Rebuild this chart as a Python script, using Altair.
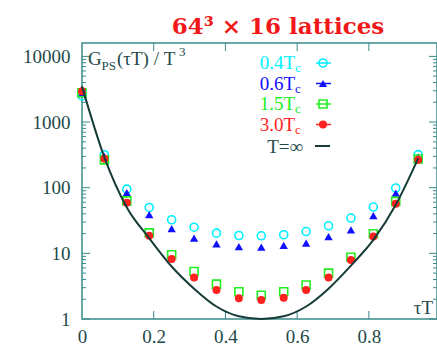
import altair as alt
import pandas as pd

# ---- data ----
tau = [0.0, 0.0625, 0.125, 0.1875, 0.25, 0.3125, 0.375, 0.4375, 0.5,
       0.5625, 0.625, 0.6875, 0.75, 0.8125, 0.875, 0.9375]
g_04 = [2500, 318, 95, 50, 32.5, 25, 20.3, 18.7, 18.5, 19.2, 21.5, 26.3, 34.5, 50.7, 99, 319]
g_06 = [2700, 300, 84, 39, 23.7, 17, 14, 12.7, 12.4, 13.2, 14.3, 18, 22.8, 37.4, 83, 294]
g_15 = [2800, 265, 63, 20.5, 9.5, 5.3, 3.4, 2.6, 2.3, 2.6, 3.3, 5.0, 8.7, 19.9, 62, 274]
g_30 = [2950, 277, 59, 18.5, 8.2, 4.3, 2.77, 2.07, 1.95, 2.1, 2.77, 4.3, 7.95, 18, 57, 267]

tau_free = [0.0, 0.0625, 0.125, 0.1875, 0.25, 0.3125, 0.375, 0.4375, 0.5,
            0.5625, 0.625, 0.6875, 0.75, 0.8125, 0.875, 0.9375]
g_free = [3500, 290, 50, 17, 6.3, 2.9, 1.55, 1.1, 1.0, 1.1, 1.55, 2.9, 6.5, 16, 55, 280]

series_labels = ["0.4T", "0.6T", "1.5T", "3.0T"]
series_colors = ["#00f0ff", "#1010ff", "#22ee22", "#ff2020"]
free_label = "T=\u221e"

x_ticks = [0, 0.2, 0.4, 0.6, 0.8]
y_ticks = [1, 10, 100, 1000, 10000]
y_minor = [m * d for d in [1, 10, 100, 1000] for m in range(2, 10)]

title_text = "64\u00b3 \u00d7 16 lattices"

W, H = 355, 276
SERIF = "Liberation Serif"
FRAME = "#3a8a8a"
TXT = "#1e4a4a"
LINE = "#163c38"

xs = alt.Scale(domain=[0, 0.99], nice=False, zero=False)
ys = alt.Scale(type="log", domain=[1, 16000], nice=False)

layers = []

# ---- data series (first layer carries the axes) ----
styles = [
    dict(shape="circle", filled=False, size=64, strokeWidth=1.6),
    dict(shape="triangle-up", filled=True, size=70),
    dict(shape="square", filled=False, size=64, strokeWidth=1.6),
    dict(shape="circle", filled=True, size=64),
]
all_vals = [g_04, g_06, g_15, g_30]
series_layers = []
first = True
for vals, col, st in zip(all_vals, series_colors, styles):
    df = pd.DataFrame({"tau": tau, "g": vals})
    if first:
        xenc = alt.X("tau:Q", scale=xs, title=None,
                     axis=alt.Axis(values=x_ticks, format="~g", ticks=False, domain=False,
                                   grid=False, labelPadding=8, labelFlush=False))
        yenc = alt.Y("g:Q", scale=ys, title=None,
                     axis=alt.Axis(values=y_ticks, format="d", ticks=False, domain=False,
                                   grid=False, labelPadding=12, labelFlush=False))
        first = False
    else:
        xenc = alt.X("tau:Q", scale=xs, title=None)
        yenc = alt.Y("g:Q", scale=ys, title=None)
    series_layers.append(alt.Chart(df).mark_point(color=col, opacity=1, **st).encode(x=xenc, y=yenc))

layers.extend(series_layers)

# ---- tick marks (inward, gnuplot style) ----
ymaj = pd.DataFrame({"g": y_ticks})
ymin = pd.DataFrame({"g": y_minor})
xmaj = pd.DataFrame({"tau": x_ticks[1:]})
for df, ln in [(ymaj, 8), (ymin, 4)]:
    for x0, x1 in [(0, ln), (W - ln, W)]:
        layers.append(alt.Chart(df).mark_rule(color=FRAME, strokeWidth=1).encode(
            y=alt.Y("g:Q", scale=ys, title=None),
            x=alt.value(x0), x2=alt.value(x1)))
for y0, y1 in [(H - 8, H), (0, 8)]:
    layers.append(alt.Chart(xmaj).mark_rule(color=FRAME, strokeWidth=1).encode(
        x=alt.X("tau:Q", scale=xs, title=None),
        y=alt.value(y0), y2=alt.value(y1)))

free_df = pd.DataFrame({"tau": tau_free, "g": g_free})
layers.append(alt.Chart(free_df).mark_line(color=LINE, strokeWidth=2, interpolate="monotone").encode(
    x=alt.X("tau:Q", scale=xs, title=None),
    y=alt.Y("g:Q", scale=ys, title=None)))

# ---- annotation helper ----
one = pd.DataFrame({"a": [0]})

def txt(s, x, y, size=19, color=TXT, align="left", font=SERIF, weight="normal"):
    return alt.Chart(one).mark_text(text=s, align=align, baseline="alphabetic", font=font,
                                    fontSize=size, color=color, fontWeight=weight).encode(
        x=alt.value(x), y=alt.value(y))

# title
layers.append(txt(title_text, 196, -9, size=23, color="#f01818", align="center",
                  font="DejaVu Serif", weight="bold"))

# y-axis label inside plot: G_PS(tau T) / T^3
layers.append(txt("G", 6, 22))
layers.append(txt("PS", 19.5, 27, size=13))
layers.append(txt("(\u03c4T) / T", 35, 22))
layers.append(txt("3", 97, 13, size=13))

# x-axis label
layers.append(txt("\u03c4T", 351, 271, align="right"))

# legend
for i, (lab, col, st) in enumerate(zip(series_labels, series_colors, styles)):
    cy = 20 + 20.5 * i
    layers.append(txt(lab, 213, cy + 6, color=col, align="right"))
    layers.append(txt("c", 213, cy + 9, size=13, color=col))
    layers.append(alt.Chart(one).mark_rule(color=col, strokeWidth=1.5).encode(
        x=alt.value(234), x2=alt.value(249), y=alt.value(cy)))
    layers.append(alt.Chart(one).mark_point(color=col, opacity=1, **st).encode(
        x=alt.value(241), y=alt.value(cy)))
cy = 20 + 20.5 * 4
layers.append(txt(free_label, 221, cy + 8, align="right"))
layers.append(alt.Chart(one).mark_rule(color=LINE, strokeWidth=2).encode(
    x=alt.value(233), x2=alt.value(248), y=alt.value(cy + 1)))

chart = alt.layer(*layers).properties(
    width=W, height=H, autosize="none",
    padding={"left": 82, "top": 43, "right": 0, "bottom": 29},
    background="white",
).configure_view(stroke=FRAME, strokeWidth=1.5).configure_axis(
    labelFont=SERIF, labelFontSize=19, labelColor=TXT)

chart.save("out.html", embed_options={"renderer": "svg", "actions": False})
